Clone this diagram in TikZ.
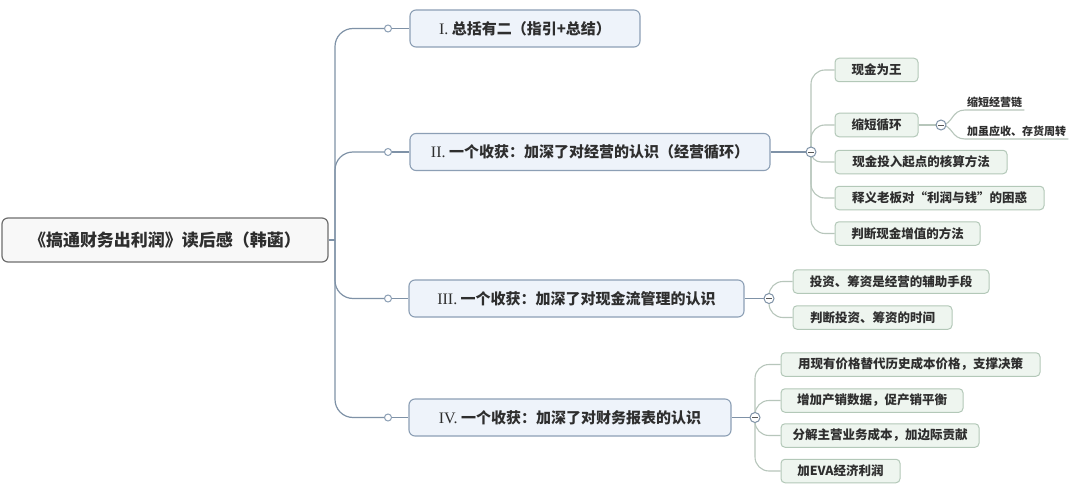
\documentclass[tikz,border=0pt]{standalone}
\usepackage{fontspec}
\newfontfamily\cjk{Noto Sans CJK SC}
\newfontfamily\rom{Liberation Serif}
\usetikzlibrary{backgrounds}
\definecolor{mainc}{HTML}{7F92A7}
\definecolor{leafc}{HTML}{B7C6BB}
\definecolor{rootb}{HTML}{6E6E6E}
\definecolor{rootf}{HTML}{F8F8F8}
\definecolor{brb}{HTML}{8C9FB5}
\definecolor{brf}{HTML}{EEF3FA}
\definecolor{lfb}{HTML}{B3C8B8}
\definecolor{lff}{HTML}{EEF5EF}
\definecolor{txt}{HTML}{2E2E2E}
\tikzset{
  mainline/.style={draw=mainc, line width=1.2pt},
  leafline/.style={draw=leafc, line width=1.1pt},
  rootbox/.style={draw=rootb, fill=rootf, rounded corners=6pt, line width=1.2pt, text=txt,
    inner sep=0pt, font={\cjk\bfseries\fontsize{17pt}{20pt}\selectfont}},
  brbox/.style={draw=brb, fill=brf, rounded corners=6pt, line width=1.1pt, text=txt,
    inner sep=0pt, minimum height=37pt, font={\cjk\bfseries\fontsize{15pt}{18pt}\selectfont}},
  lfbox/.style={draw=lfb, fill=lff, rounded corners=4pt, line width=1pt, text=txt,
    inner xsep=6pt, inner ysep=0pt, minimum height=23.5pt, font={\cjk\bfseries\fontsize{12.5pt}{15pt}\selectfont}},
  sublf/.style={text=txt, inner xsep=2pt, inner ysep=2.5pt, anchor=south west,
    font={\cjk\bfseries\fontsize{11pt}{13pt}\selectfont}},
  knob/.style={circle, draw=brb, fill=white, line width=1pt, minimum size=7pt, inner sep=0pt},
  minusc/.style={circle, draw=mainc, fill=white, line width=1pt, minimum size=10pt, inner sep=0pt,
    path picture={\draw[line width=0.9pt, draw=txt!80] ([xshift=-2.6pt]path picture bounding box.center) -- ([xshift=2.6pt]path picture bounding box.center);}}
}
\begin{document}
\begin{tikzpicture}[x=1pt, y=-1pt]
\useasboundingbox (0,0) rectangle (1080,487);

% root
\node[rootbox, minimum width=326pt, minimum height=44pt] (root) at (165,240) {《搞通财务出利润》读后感（韩菡）};
\coordinate (hub) at (335,240);

% branches
\node[brbox, minimum width=230pt] (b1) at (525,28.5) {{\rom\mdseries\fontsize{16pt}{18pt}\selectfont I.} 总括有二（指引+总结）};
\node[brbox, minimum width=360pt] (b2) at (590,152) {{\rom\mdseries\fontsize{16pt}{18pt}\selectfont II.} 一个收获：加深了对经营的认识（经营循环）};
\node[brbox, minimum width=335pt] (b3) at (576.5,298.5) {{\rom\mdseries\fontsize{16pt}{18pt}\selectfont III.} 一个收获：加深了对现金流管理的认识};
\node[brbox, minimum width=322pt] (b4) at (570,417.5) {{\rom\mdseries\fontsize{16pt}{18pt}\selectfont IV.} 一个收获：加深了对财务报表的认识};

\node[knob] (k1) at (388,28.5) {};
\node[knob] (k2) at (388,152) {};
\node[knob] (k3) at (388,298.5) {};
\node[knob] (k4) at (388,417.5) {};

% collapse circles
\node[minusc] (c2) at (811,152) {};
\node[minusc] (c21) at (941,125) {};
\node[minusc] (c3) at (769,298.5) {};
\node[minusc] (c4) at (755,417.5) {};

% leaves of II
\node[lfbox, minimum width=83pt] (l21) at (876.5,70) {现金为王};
\node[lfbox, minimum width=83pt] (l22) at (876.5,125) {缩短循环};
\node[lfbox, minimum width=172pt] (l23) at (921,162) {现金投入起点的核算方法};
\node[lfbox, minimum width=209pt] (l24) at (939.5,198) {释义老板对“利润与钱”的困惑};
\node[lfbox, minimum width=145pt] (l25) at (907.5,233.5) {判断现金增值的方法};

\node[sublf] (s1) at (965,110) {缩短经营链};
\node[sublf] (s2) at (965,139) {加虽应收、存货周转};

% leaves of III
\node[lfbox, minimum width=196pt] (l31) at (891,281.5) {投资、筹资是经营的辅助手段};
\node[lfbox, minimum width=159pt] (l32) at (872.5,317.5) {判断投资、筹资的时间};

% leaves of IV
\node[lfbox, minimum width=259pt] (l41) at (910.5,364.5) {用现有价格替代历史成本价格，支撑决策};
\node[lfbox, minimum width=182pt] (l42) at (872,400.5) {增加产销数据，促产销平衡};
\node[lfbox, minimum width=198pt] (l43) at (880,435.5) {分解主营业务成本，加边际贡献};
\node[lfbox, minimum width=119pt] (l44) at (840.5,471) {加EVA经济利润};

\begin{scope}[on background layer]
  \fill[white] (0,0) rectangle (1080,487);
  \draw[mainline] (root.east) -- (hub);
  \foreach \k in {k1,k2,k3,k4}{
    \draw[mainline, rounded corners=18pt] (hub) |- (\k.center);
  }
  \draw[mainline] (k1.east) -- (b1.west);
  \draw[mainline] (k2.east) -- (b2.west);
  \draw[mainline] (k3.east) -- (b3.west);
  \draw[mainline] (k4.east) -- (b4.west);

  \draw[mainline] (b2.east) -- (c2.center);
  \draw[mainline] (b3.east) -- (c3.center);
  \draw[mainline] (b4.east) -- (c4.center);

  \draw[leafline, rounded corners=14pt] (c2.center) |- (l21.west);
  \draw[leafline, rounded corners=14pt] (c2.center) |- (l22.west);
  \draw[leafline, rounded corners=10pt] (c2.center) |- (l23.west);
  \draw[leafline, rounded corners=14pt] (c2.center) |- (l24.west);
  \draw[leafline, rounded corners=14pt] (c2.center) |- (l25.west);

  \draw[leafline] (l22.east) -- (c21.center);
  \draw[leafline] (c21.center) .. controls +(12,0) and +(-14,0) .. (s1.south west) -- (s1.south east);
  \draw[leafline] (c21.center) .. controls +(12,0) and +(-14,0) .. (s2.south west) -- (s2.south east);

  \draw[leafline, rounded corners=14pt] (c3.center) |- (l31.west);
  \draw[leafline, rounded corners=14pt] (c3.center) |- (l32.west);

  \draw[leafline, rounded corners=14pt] (c4.center) |- (l41.west);
  \draw[leafline, rounded corners=14pt] (c4.center) |- (l42.west);
  \draw[leafline, rounded corners=14pt] (c4.center) |- (l43.west);
  \draw[leafline, rounded corners=14pt] (c4.center) |- (l44.west);
\end{scope}
\end{tikzpicture}
\end{document}
